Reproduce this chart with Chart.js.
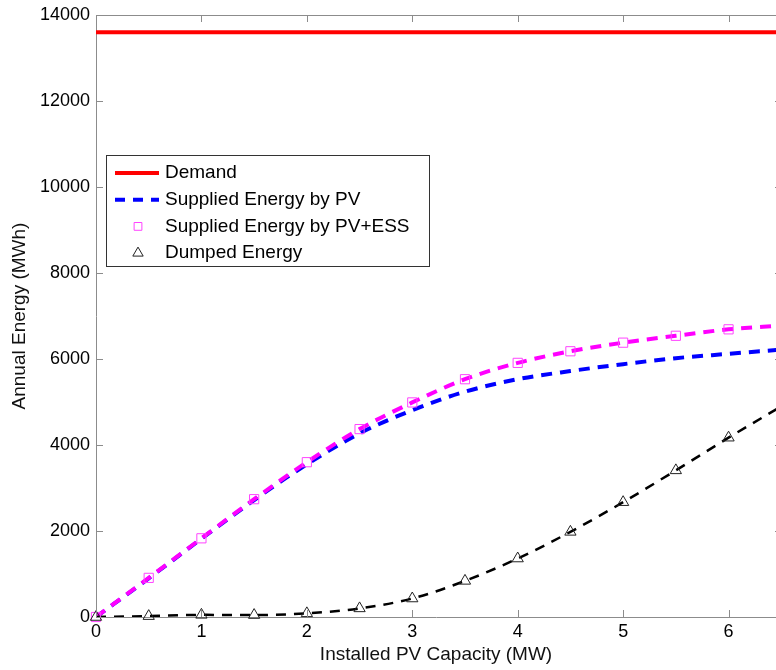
<!DOCTYPE html>
<html>
<head>
<meta charset="utf-8">
<script src="https://cdn.jsdelivr.net/npm/chart.js@4"></script>
<style>
  body { margin: 0; background: #fff; }
  #wrap { width: 776px; height: 670px; }
</style>
</head>
<body>
<div id="wrap"><canvas id="energyChart" width="776" height="670"></canvas></div>
<script>
// installed PV capacity (MW)
const capacity = [0, 0.5, 1, 1.5, 2, 2.5, 3, 3.5, 4, 4.5, 5, 5.5, 6, 6.5];
const demand = [13600, 13600, 13600, 13600, 13600, 13600, 13600, 13600, 13600, 13600, 13600, 13600, 13600, 13600];
const suppliedPV = [0, 900, 1820, 2720, 3550, 4270, 4810, 5240, 5530, 5720, 5880, 6020, 6120, 6220];
const suppliedPVESS = [0, 910, 1830, 2740, 3600, 4370, 4990, 5530, 5910, 6180, 6380, 6540, 6690, 6780];
const dumped = [0, 20, 50, 45, 85, 200, 430, 840, 1360, 1980, 2670, 3410, 4170, 4900];
const xTicks = [0, 1, 2, 3, 4, 5, 6];
const yTicks = [0, 2000, 4000, 6000, 8000, 10000, 12000, 14000];

const toPoints = (ys) => ys.map((v, i) => ({ x: capacity[i], y: v }));
// markers only drawn up to 6 MW
const markerPoints = (ys) => toPoints(ys).slice(0, 13);

const font = "'Liberation Sans', Arial, sans-serif";
const axisGray = "#8c8c8c";

// MATLAB-like frame: top line and inward tick marks (right side is cropped off)
const framePlugin = {
  id: "frame",
  afterDraw(chart) {
    const { ctx, chartArea: a, scales } = chart;
    ctx.save();
    ctx.strokeStyle = axisGray;
    ctx.lineWidth = 1;
    ctx.beginPath();
    ctx.moveTo(a.left, a.top + 0.5);
    ctx.lineTo(a.right, a.top + 0.5);
    scales.x.ticks.forEach((t) => {
      const px = Math.round(scales.x.getPixelForValue(t.value)) + 0.5;
      ctx.moveTo(px, a.bottom);
      ctx.lineTo(px, a.bottom - 7);
      ctx.moveTo(px, a.top);
      ctx.lineTo(px, a.top + 7);
    });
    scales.y.ticks.forEach((t) => {
      const py = Math.round(scales.y.getPixelForValue(t.value)) + 0.5;
      ctx.moveTo(a.left, py);
      ctx.lineTo(a.left + 7, py);
      ctx.moveTo(a.right, py);
      ctx.lineTo(a.right - 1, py);
    });
    ctx.stroke();
    ctx.restore();
  },
};

// legend box drawn inside the plot, like the figure
const legendPlugin = {
  id: "boxLegend",
  afterDraw(chart) {
    const { ctx, chartArea: a } = chart;
    const x0 = a.left + 10, y0 = a.top + 140, w = 323, h = 111;
    ctx.save();
    ctx.fillStyle = "#fff";
    ctx.fillRect(x0, y0, w, h);
    ctx.strokeStyle = "#333";
    ctx.lineWidth = 1;
    ctx.strokeRect(x0 + 0.5, y0 + 0.5, w, h);

    const rows = [
      { text: "Demand", kind: "line", color: "#ff0000", dash: [], width: 4 },
      { text: "Supplied Energy by PV", kind: "line", color: "#0000ff", dash: [10, 8], width: 4 },
      { text: "Supplied Energy by PV+ESS", kind: "rect", color: "#ff44ff", r: 5.5 },
      { text: "Dumped Energy", kind: "triangle", color: "#222", r: 6 },
    ];
    ctx.font = "19px " + font;
    ctx.textBaseline = "middle";
    rows.forEach((r, i) => {
      const cy = y0 + 18 + i * 26.7;
      if (r.kind === "line") {
        ctx.beginPath();
        ctx.strokeStyle = r.color;
        ctx.lineWidth = r.width;
        ctx.setLineDash(r.dash);
        ctx.moveTo(x0 + 9, cy);
        ctx.lineTo(x0 + 53, cy);
        ctx.stroke();
        ctx.setLineDash([]);
      } else {
        ctx.fillStyle = "rgba(255,255,255,0)";
        ctx.strokeStyle = r.color;
        ctx.lineWidth = 1;
        Chart.helpers.drawPoint(ctx, {
          pointStyle: r.kind, radius: r.r, rotation: 0, borderWidth: 1,
        }, x0 + 32, cy);
      }
      ctx.fillStyle = "#000";
      ctx.fillText(r.text, x0 + 59, cy);
    });
    ctx.restore();
  },
};

new Chart(document.getElementById("energyChart"), {
  type: "line",
  data: {
    datasets: [
      {
        label: "Demand",
        data: toPoints(demand),
        borderColor: "#ff0000",
        borderWidth: 4,
        pointRadius: 0,
        order: 6,
      },
      {
        label: "Supplied Energy by PV",
        data: toPoints(suppliedPV),
        borderColor: "#0000ff",
        borderWidth: 4,
        borderDash: [11, 8],
        pointRadius: 0,
        cubicInterpolationMode: "monotone",
        order: 5,
      },
      {
        label: "PV+ESS curve",
        data: toPoints(suppliedPVESS),
        borderColor: "#ff00ff",
        borderWidth: 4,
        borderDash: [11, 8],
        pointRadius: 0,
        cubicInterpolationMode: "monotone",
        order: 4,
      },
      {
        label: "Dumped curve",
        data: toPoints(dumped),
        borderColor: "#000",
        borderWidth: 2.5,
        borderDash: [10, 8],
        pointRadius: 0,
        cubicInterpolationMode: "monotone",
        order: 3,
      },
      {
        label: "Supplied Energy by PV+ESS",
        data: markerPoints(suppliedPVESS),
        showLine: false,
        pointStyle: "rect",
        pointRadius: 6.5,
        pointBorderColor: "#ff44ff",
        pointBackgroundColor: "rgba(255,255,255,0)",
        pointBorderWidth: 1,
        clip: false,
        order: 2,
      },
      {
        label: "Dumped Energy",
        data: markerPoints(dumped),
        showLine: false,
        pointStyle: "triangle",
        pointRadius: 6.5,
        pointBorderColor: "#222",
        pointBackgroundColor: "rgba(255,255,255,0)",
        pointBorderWidth: 1,
        clip: false,
        order: 1,
      },
    ],
  },
  options: {
    responsive: false,
    animation: false,
    layout: { autoPadding: false, padding: { top: 15, right: 0, left: 0, bottom: 0 } },
    plugins: {
      legend: { display: false },
      tooltip: { enabled: false },
    },
    scales: {
      x: {
        type: "linear",
        min: 0,
        max: 6.45,
        afterBuildTicks: (s) => { s.ticks = xTicks.map((v) => ({ value: v })); },
        afterFit: (s) => { s.height = 53; s.paddingLeft = 0; s.paddingRight = 0; },
        grid: { display: false, drawTicks: false },
        border: { color: axisGray, width: 1 },
        ticks: { color: "#000", font: { family: font, size: 18 }, padding: 4, maxRotation: 0, callback: (v) => String(v) },
        title: {
          display: true,
          text: "Installed PV Capacity (MW)",
          color: "#111",
          font: { family: font, size: 19 },
          padding: { top: 0, bottom: 4 },
        },
      },
      y: {
        min: 0,
        max: 14000,
        afterBuildTicks: (s) => { s.ticks = yTicks.map((v) => ({ value: v })); },
        afterFit: (s) => { s.width = 96; s.paddingTop = 0; s.paddingBottom = 0; },
        grid: { display: false, drawTicks: false },
        border: { color: axisGray, width: 1 },
        ticks: { color: "#000", font: { family: font, size: 18 }, padding: 6, callback: (v) => String(v) },
        title: {
          display: true,
          text: "Annual Energy (MWh)",
          color: "#111",
          font: { family: font, size: 19 },
          padding: { top: 8, bottom: 0 },
        },
      },
    },
  },
  plugins: [framePlugin, legendPlugin],
});
</script>
</body>
</html>
